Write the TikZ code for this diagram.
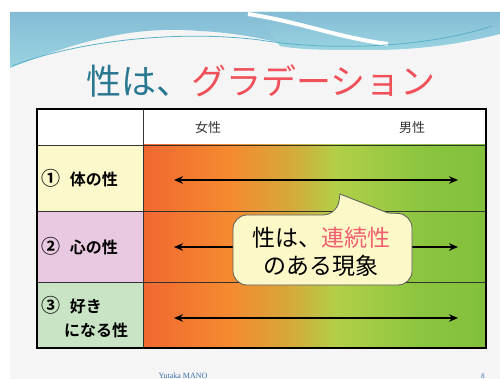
\documentclass[tikz,border=0pt]{standalone}
\usepackage{fontspec}
\usetikzlibrary{arrows.meta}
\newfontfamily\jp[BoldFont={Noto Sans CJK JP Bold}]{Noto Sans CJK JP}
\setmainfont{Liberation Serif}
\definecolor{gA}{HTML}{F06830}
\definecolor{gB}{HTML}{F58A30}
\definecolor{gC}{HTML}{D6A83A}
\definecolor{gD}{HTML}{B2CF48}
\definecolor{gE}{HTML}{8CC540}
\definecolor{gF}{HTML}{82C03C}
\definecolor{bandTop}{HTML}{84BCD6}
\definecolor{bandBot}{HTML}{9AD4E0}
\definecolor{bandLine}{HTML}{5AB0C8}
\definecolor{titleTeal}{HTML}{2A7890}
\definecolor{titleRed}{HTML}{F0505A}
\definecolor{calloutRed}{HTML}{F06070}
\definecolor{rowA}{HTML}{FBF8CB}
\definecolor{rowB}{HTML}{E9C8E1}
\definecolor{rowC}{HTML}{C9E4C5}
\definecolor{calloutFill}{HTML}{FCF8C8}
\definecolor{footBlue}{HTML}{3A70B0}
\pgfdeclarehorizontalshading{gradsex}{100bp}{color(0bp)=(gA); color(25bp)=(gA); color(37.65bp)=(gB); color(46.35bp)=(gC); color(53.2bp)=(gD); color(65.25bp)=(gE); color(75bp)=(gF); color(100bp)=(gF)}
\newcommand{\circnum}[1]{{\fontsize{19}{19}\selectfont #1}}
\tikzset{
  inner/.style={draw=black!80, line width=0.8pt},
  outer/.style={draw=black, line width=1.5pt},
  arr/.style={line width=2.3pt, {Stealth[length=9pt,width=7.5pt]}-{Stealth[length=9pt,width=7.5pt]}},
  hdr/.style={anchor=base, font=\jp\fontsize{13}{15}\selectfont, text=black!80, inner sep=0pt},
  rowlab/.style={anchor=base west, font=\jp\bfseries\fontsize{16}{18}\selectfont, inner sep=0pt},
  calltxt/.style={anchor=base, font=\jp\fontsize{23}{26}\selectfont, inner sep=0pt},
  foot/.style={anchor=base, text=footBlue, inner sep=0pt}
}
\begin{document}
\begin{tikzpicture}[x=1pt,y=-1pt]
\useasboundingbox (0,0) rectangle (500,379);
\fill[white] (0,0) rectangle (500,379);
\fill[black!4] (10,12) rectangle (500,379);
% header band
\shade[top color=bandTop, bottom color=bandBot] (10,12) -- (300,12) -- (300,48) .. controls (270,40) and (240,33) .. (200,31) .. controls (150,27) and (100,32) .. (10,68) -- cycle;
\shade[top color=bandTop, bottom color=bandBot] (255,12) -- (500,12) -- (500,34) .. controls (460,44) and (420,50) .. (370,50) .. controls (330,50) and (300,50) .. (280,46) -- cycle;
\draw[white, line width=4pt] (248,14) .. controls (300,22) and (340,38) .. (388,44);
\draw[bandLine, line width=0.8pt] (12,66) .. controls (80,40) and (180,30) .. (260,40) .. controls (320,50) and (420,50) .. (492,26);
% title
\node[anchor=base, inner sep=0pt, font=\jp\fontsize{35}{40}\selectfont] (title) at (261,95) {\textcolor{titleTeal}{性は、}\textcolor{titleRed}{グラデーション}};
% table cells
\fill[white] (37,109) rectangle (486,145);
\fill[rowA] (37,145) rectangle (143,211);
\fill[rowB] (37,211) rectangle (143,282);
\fill[rowC] (37,282) rectangle (143,348);
\shade[shading=gradsex] (143,145) rectangle (486,348);
\draw[inner] (37,145) -- (486,145);
\draw[inner] (37,211) -- (486,211);
\draw[inner] (37,282) -- (486,282);
\draw[inner] (143,109) -- (143,348);
\draw[outer] (37,109) rectangle (486,348);
% header labels
\node[hdr] (female) at (208,133) {女性};
\node[hdr] (male) at (412,133) {男性};
% row labels
\node[rowlab] (lab1) at (41,186) {\circnum{①}\hspace{0.6em}体の性};
\node[rowlab] (lab2) at (41,253) {\circnum{②}\hspace{0.6em}心の性};
\node[rowlab] (lab3a) at (41,312) {\circnum{③}\hspace{0.6em}好き};
\node[rowlab] (lab3b) at (64,336) {になる性};
% arrows
\coordinate (a1l) at (174,180); \coordinate (a1r) at (458,180);
\coordinate (a2l) at (174,247); \coordinate (a2r) at (458,247);
\coordinate (a3l) at (174,318); \coordinate (a3r) at (458,318);
\draw[arr] (a1l) -- (a1r);
\draw[arr] (a2l) -- (a2r);
\draw[arr] (a3l) -- (a3r);
% callout
\draw[fill=calloutFill, draw=black!65, line width=0.8pt] (233,250) [rounded corners=14pt] -- (233,215) -- (337,215) [sharp corners] -- (340,194) -- (388,213) [rounded corners=14pt] -- (412,214) -- (412,285) -- (233,285) [sharp corners] -- cycle;
\node[calltxt] (c1) at (321,246) {性は、\textcolor{calloutRed}{連続性}};
\node[calltxt] (c2) at (321,274) {のある現象};
% footer
\node[foot, font=\fontsize{8}{9}\selectfont] (author) at (183,378) {Yutaka MANO};
\node[foot, font=\sffamily\fontsize{7}{8}\selectfont] (page) at (483,378) {8};
\end{tikzpicture}
\end{document}
